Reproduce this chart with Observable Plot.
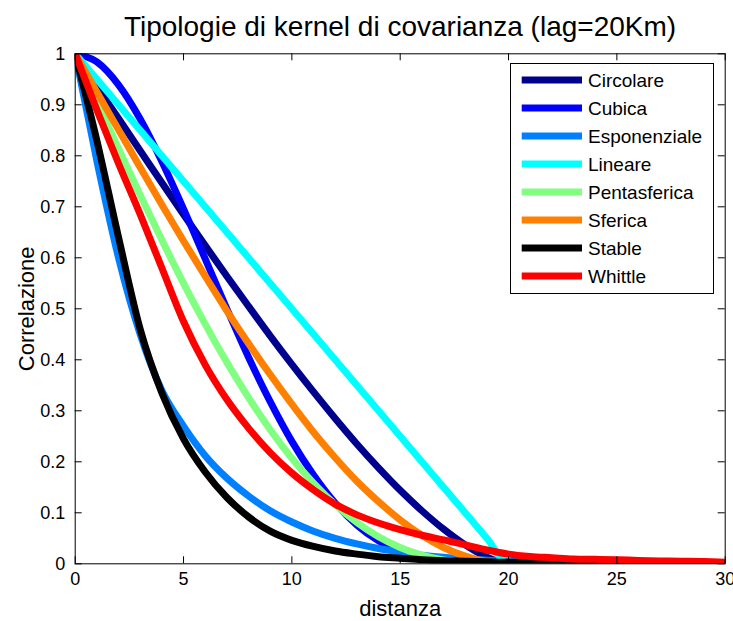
<!DOCTYPE html>
<html><head><meta charset="utf-8">
<script src="https://cdn.jsdelivr.net/npm/d3@7"></script>
<script src="https://cdn.jsdelivr.net/npm/@observablehq/plot@0.6"></script>
<style>
body{margin:0;background:#fff;font-family:"Liberation Sans",Arial,sans-serif;}
#wrap{position:relative;width:733px;height:621px;overflow:hidden;}
#title{position:absolute;left:75px;width:650px;top:13px;text-align:center;font-size:28px;line-height:28px;color:#000;white-space:nowrap;}
#chart{position:absolute;left:0;top:45px;}
#legend{position:absolute;left:510px;top:63px;overflow:visible;}
</style></head>
<body><div id="wrap"><div id="title"></div><div id="chart"></div><svg id="legend" width="204" height="231"></svg></div>
<script>
const titleText = "Tipologie di kernel di covarianza (lag=20Km)";
const xLabel = "distanza";
const yLabel = "Correlazione";
const xTicks = [0, 5, 10, 15, 20, 25, 30];
const yTicks = [0, 0.1, 0.2, 0.3, 0.4, 0.5, 0.6, 0.7, 0.8, 0.9, 1];
const distanza = [0,1,2,3,4,5,6,7,8,9,10,11,12,13,14,15,16,17,18,19,20,21,22,23,24,25,26,27,28,29,30];
const names = ["Circolare","Cubica","Esponenziale","Lineare","Pentasferica","Sferica","Stable","Whittle"];
const colors = ["#00008f","#0000ff","#0080ff","#00ffff","#80ff80","#ff8000","#000000","#ff0000"];
const circolare    = [1,.936,.873,.810,.747,.685,.624,.564,.505,.447,.391,.337,.285,.235,.188,.144,.104,.068,.037,.013,0,0,0,0,0,0,0,0,0,0,0];
const cubica       = [1,.984,.939,.872,.789,.696,.598,.500,.405,.318,.240,.174,.119,.076,.045,.023,.010,.004,.001,0,0,0,0,0,0,0,0,0,0,0,0];
const esponenziale = [1,.79,.60,.45,.34,.27,.212,.168,.133,.104,.082,.064,.05,.039,.03,.023,.017,.013,.01,.007,.005,.004,.003,.002,.001,.001,0,0,0,0,0];
const lineare      = [1,.95,.90,.85,.80,.75,.70,.65,.60,.55,.50,.45,.40,.35,.30,.25,.20,.15,.10,.05,0,0,0,0,0,0,0,0,0,0,0];
const pentasferica = [1,.906,.814,.723,.635,.550,.470,.395,.326,.263,.207,.158,.116,.081,.053,.032,.017,.0075,.0023,.0003,0,0,0,0,0,0,0,0,0,0,0];
const sferica      = [1,.925,.851,.777,.704,.633,.564,.496,.432,.371,.313,.258,.208,.162,.122,.086,.056,.032,.015,.004,0,0,0,0,0,0,0,0,0,0,0];
const stable       = [1,.83,.64,.46,.335,.245,.18,.13,.092,.064,.046,.034,.025,.019,.014,.011,.008,.006,.005,.004,.003,.003,.002,0,0,0,0,0,0,0,0];
const whittle      = [1,.89,.785,.685,.58,.475,.39,.322,.266,.218,.178,.145,.117,.096,.08,.067,.056,.047,.037,.027,.019,.0145,.012,.0095,.0088,.008,.0065,.0055,.005,.0045,.003];
const seriesValues = [circolare, cubica, esponenziale, lineare, pentasferica, sferica, stable, whittle];

document.getElementById("title").textContent = titleText;

const W = 733, H = 576, mT = 8.3, mB = 57.7, mL = 74.7, mR = 8.3;
const frameW = W - mL - mR, frameH = H - mT - mB;
const LW = 7;

const lineMarks = seriesValues.map((vals, i) =>
  Plot.line(distanza.map((d, j) => ({x: d, y: vals[j]})), {
    x: "x", y: "y", stroke: colors[i], strokeWidth: LW, curve: "monotone-x",
    strokeLinejoin: "round", strokeLinecap: "butt", clip: true
  })
);

const plot = Plot.plot({
  width: W, height: H, marginTop: mT, marginBottom: mB, marginLeft: mL, marginRight: mR,
  style: {fontFamily: "'Liberation Sans', Arial, sans-serif", fontSize: "18px", color: "#000", background: "#fff", overflow: "visible"},
  x: {domain: [0, 30]},
  y: {domain: [0, 1]},
  marks: [
    ...lineMarks,
    Plot.frame({stroke: "#000", strokeWidth: 1}),
    Plot.tickX(xTicks, {x: d => d, insetTop: frameH - 7, stroke: "#000"}),
    Plot.tickX(xTicks, {x: d => d, insetBottom: frameH - 7, stroke: "#000"}),
    Plot.tickY(yTicks, {y: d => d, insetRight: frameW - 7, stroke: "#000"}),
    Plot.tickY(yTicks, {y: d => d, insetLeft: frameW - 7, stroke: "#000"}),
    Plot.axisX({ticks: xTicks, tickSize: 0, tickPadding: 8, label: null, fontSize: 18, tickFormat: d => String(d)}),
    Plot.axisY({ticks: yTicks, tickSize: 0, tickPadding: 10, label: null, fontSize: 18, tickFormat: d => String(d)}),
    Plot.text([xLabel], {frameAnchor: "bottom", dy: 52, lineAnchor: "bottom", textAnchor: "middle", fontSize: 22, fill: "#000"}),
    Plot.text([yLabel], {frameAnchor: "left", dx: -48, rotate: -90, textAnchor: "middle", lineAnchor: "middle", fontSize: 22, fill: "#000"})
  ]
});
document.getElementById("chart").appendChild(plot);

// legend
const lg = d3.select("#legend");
lg.append("rect").attr("x", 0.5).attr("y", 0.5).attr("width", 203).attr("height", 230)
  .attr("fill", "#fff").attr("stroke", "#000").attr("stroke-width", 1);
const rows = lg.selectAll("g").data(names).join("g")
  .attr("transform", (d, i) => `translate(0,${17 + i * 28})`);
rows.append("line").attr("x1", 11.7).attr("x2", 72).attr("y1", 0).attr("y2", 0)
  .attr("stroke", (d, i) => colors[i]).attr("stroke-width", LW);
rows.append("text").attr("x", 78).attr("y", 0).attr("dy", "0.35em")
  .attr("font-family", "'Liberation Sans', Arial, sans-serif").attr("font-size", 19).attr("fill", "#000")
  .text(d => d);
</script>
</body></html>
